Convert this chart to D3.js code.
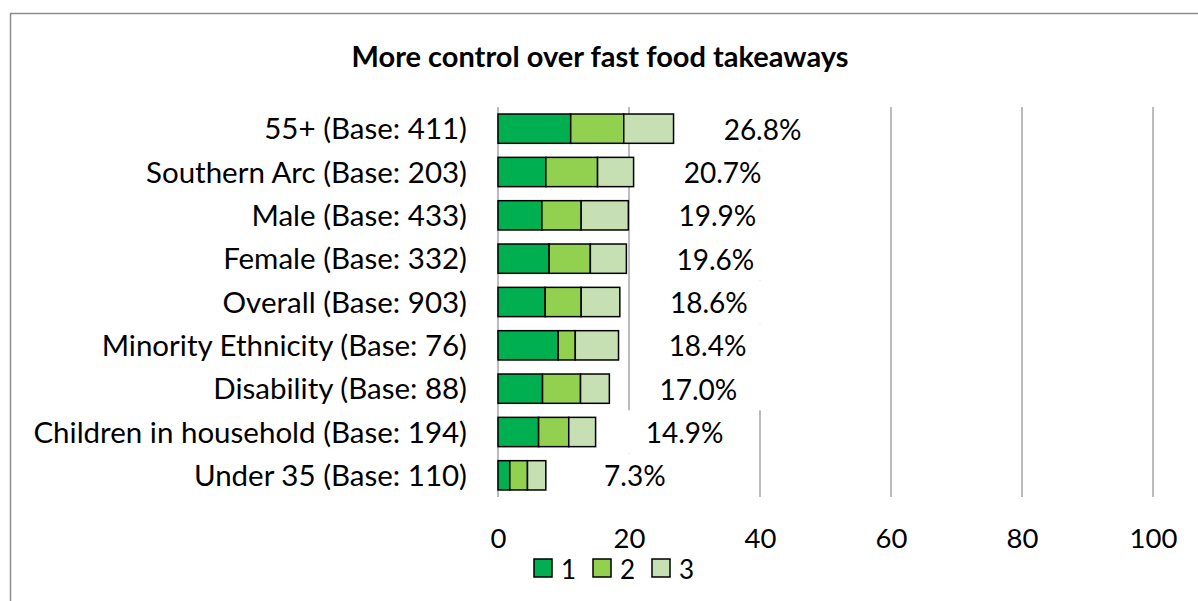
<!DOCTYPE html>
<html>
<head>
<meta charset="utf-8">
<script src="https://cdn.jsdelivr.net/npm/d3@7"></script>
<style>
  html, body { margin: 0; padding: 0; background: #fff; }
  svg { display: block; }
  text { font-family: Lato, "Open Sans", sans-serif; fill: #000; }
</style>
</head>
<body>
<svg id="chart" width="1198" height="601"></svg>
<script>
// Survey groups, top to bottom
const categories = [
  "55+ (Base: 411)",
  "Southern Arc (Base: 203)",
  "Male (Base: 433)",
  "Female (Base: 332)",
  "Overall (Base: 903)",
  "Minority Ethnicity (Base: 76)",
  "Disability (Base: 88)",
  "Children in household (Base: 194)",
  "Under 35 (Base: 110)"
];
// Share of respondents ranking the measure 1st, 2nd and 3rd (%)
const rank1 = [11.1, 7.3, 6.7, 7.8, 7.2, 9.2, 6.8, 6.2, 1.8];
const rank2 = [8.1, 7.9, 6.0, 6.3, 5.5, 2.6, 5.8, 4.6, 2.7];
const rank3 = [7.6, 5.5, 7.2, 5.5, 5.9, 6.6, 4.4, 4.1, 2.8];
// Combined share shown next to each bar
const totals = [26.8, 20.7, 19.9, 19.6, 18.6, 18.4, 17.0, 14.9, 7.3];
const seriesNames = ["1", "2", "3"];
const seriesColors = ["#00b050", "#92d050", "#c6e0b4"];
const xTicks = [0, 20, 40, 60, 80, 100];
const titleText = "More control over fast food takeaways";

const svg = d3.select("#chart");

// Outer chart frame
svg.append("rect")
  .attr("x", 10.5).attr("y", 13.5)
  .attr("width", 1200).attr("height", 600)
  .attr("fill", "#fff")
  .attr("stroke", "#8c8c8c").attr("stroke-width", 1.5);

svg.append("text")
  .attr("x", 600).attr("y", 55)
  .attr("text-anchor", "middle")
  .attr("dominant-baseline", "central")
  .style("font-weight", "bold")
  .style("font-size", "29px")
  .text(titleText);

const x = d3.scaleLinear().domain([0, 100]).range([498, 1153]);
const y = d3.scaleBand().domain(categories).range([107, 497])
  .paddingInner(0.324).paddingOuter(0.162);

// Stack the three ranks
const rows = categories.map((c, i) => ({ cat: c, r1: rank1[i], r2: rank2[i], r3: rank3[i], total: totals[i] }));
const stack = d3.stack().keys(["r1", "r2", "r3"]);
const layers = stack(rows);

// Gridlines
svg.append("g").selectAll("line")
  .data(xTicks.filter(t => t > 0))
  .join("line")
  .attr("x1", d => x(d)).attr("x2", d => x(d))
  .attr("y1", y.range()[0]).attr("y2", y.range()[1])
  .attr("stroke", "#a6a6a6").attr("stroke-width", 1.5);

// Data labels sit on white boxes that mask the gridlines behind them
const labelOffset = 89;
const boxW = 130;
const step = y.step();
const labels = svg.append("g");
labels.selectAll("rect")
  .data(rows)
  .join("rect")
  .attr("x", d => x(d.total) + labelOffset - boxW / 2)
  .attr("y", d => y(d.cat) - step * y.paddingInner() / 2)
  .attr("width", boxW).attr("height", step)
  .attr("fill", "#fff");
labels.selectAll("text")
  .data(rows)
  .join("text")
  .attr("x", d => x(d.total) + labelOffset)
  .attr("y", d => y(d.cat) + y.bandwidth() / 2)
  .attr("text-anchor", "middle")
  .attr("dominant-baseline", "central")
  .style("font-size", "28px")
  .text(d => d.total.toFixed(1) + "%");

// Vertical category axis line
svg.append("line")
  .attr("x1", x(0)).attr("x2", x(0))
  .attr("y1", y.range()[0]).attr("y2", y.range()[1])
  .attr("stroke", "#a6a6a6").attr("stroke-width", 1.5);

// Bars
svg.append("g").selectAll("g")
  .data(layers)
  .join("g")
  .attr("fill", (d, i) => seriesColors[i])
  .selectAll("rect")
  .data(d => d)
  .join("rect")
  .attr("x", d => x(d[0]))
  .attr("y", d => y(d.data.cat))
  .attr("width", d => x(d[1]) - x(d[0]))
  .attr("height", y.bandwidth())
  .attr("stroke", "#000").attr("stroke-width", 1.5);

// Category labels
svg.append("g").selectAll("text")
  .data(categories)
  .join("text")
  .attr("x", x(0) - 31)
  .attr("y", d => y(d) + y.bandwidth() / 2 - 1)
  .attr("text-anchor", "end")
  .attr("dominant-baseline", "central")
  .style("font-size", "29.5px")
  .text(d => d);

// Value axis tick labels
const xAxis = svg.append("g")
  .attr("transform", "translate(0,520)")
  .call(d3.axisBottom(x).tickValues(xTicks).tickSize(0).tickPadding(0));
xAxis.select(".domain").remove();
xAxis.selectAll("text")
  .attr("dy", null).attr("y", 17)
  .attr("dominant-baseline", "central")
  .style("font-family", "Lato, 'Open Sans', sans-serif")
  .style("font-size", "27.5px");

// Legend
const legendX = [534, 593, 652];
const legend = svg.append("g").selectAll("g")
  .data(seriesNames)
  .join("g")
  .attr("transform", (d, i) => `translate(${legendX[i]},559)`);
legend.append("rect")
  .attr("width", 18).attr("height", 18)
  .attr("fill", (d, i) => seriesColors[i])
  .attr("stroke", "#000").attr("stroke-width", 1.5);
legend.append("text")
  .attr("x", 27).attr("y", 10)
  .attr("dominant-baseline", "central")
  .style("font-size", "26px")
  .text(d => d);
</script>
</body>
</html>
